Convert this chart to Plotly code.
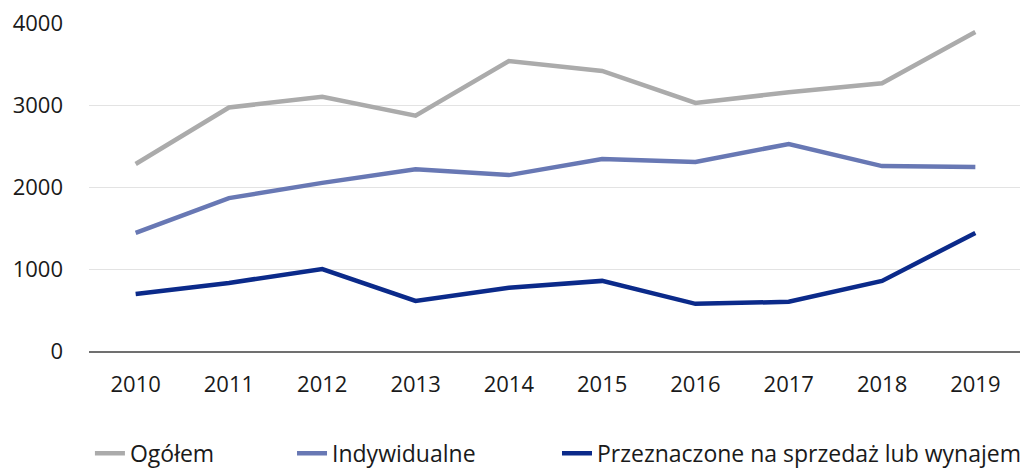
import plotly.graph_objects as go

years = ["2010", "2011", "2012", "2013", "2014", "2015", "2016", "2017", "2018", "2019"]
ogolem = [2280, 2970, 3100, 2870, 3535, 3415, 3025, 3155, 3265, 3890]
indywidualne = [1440, 1865, 2050, 2215, 2145, 2340, 2305, 2525, 2255, 2245]
przeznaczone = [695, 830, 1000, 610, 770, 855, 575, 600, 855, 1440]

series_names = ["Ogółem", "Indywidualne", "Przeznaczone na sprzedaż lub wynajem"]
colors = ["#ABABAB", "#6878B4", "#0B2A8A"]
legend_ids = ["legend", "legend2", "legend3"]
legend_x = [0.001, 0.2176, 0.5016]

fig = go.Figure()
for name, vals, col, lid in zip(series_names, [ogolem, indywidualne, przeznaczone], colors, legend_ids):
    fig.add_trace(go.Scatter(x=years, y=vals, mode="lines", name=name, legend=lid,
                             line=dict(color=col, width=4.5)))

font_family = "Open Sans"
leg_common = dict(orientation="h", xanchor="left", y=-0.312, yanchor="middle",
                  font=dict(size=23, color="#1a1a1a"), bgcolor="rgba(0,0,0,0)",
                  tracegroupgap=0, borderwidth=0)
fig.update_layout(
    width=1020, height=463,
    margin=dict(l=81, r=6, t=15, b=120, autoexpand=False),
    plot_bgcolor="white", paper_bgcolor="white",
    font=dict(family=font_family, size=22, color="#1a1a1a"),
    showlegend=True,
    legend=dict(x=legend_x[0], **leg_common),
    legend2=dict(x=legend_x[1], **leg_common),
    legend3=dict(x=legend_x[2], **leg_common),
)
fig.update_xaxes(type="category", range=[-0.5, 9.5], showgrid=False, automargin=False,
                 showline=True, linecolor="#707070", linewidth=1.5,
                 ticks="", ticklabelstandoff=13, tickfont=dict(size=22))
fig.update_yaxes(range=[0, 4000], tickvals=[0, 1000, 2000, 3000, 4000], automargin=False,
                 ticklabeloverflow="allow",
                 showgrid=True, gridcolor="#E3E3E3", gridwidth=1.2,
                 zeroline=False, showline=False, ticks="",
                 ticklabelstandoff=25, tickfont=dict(size=22))

fig.write_html("out.html")
